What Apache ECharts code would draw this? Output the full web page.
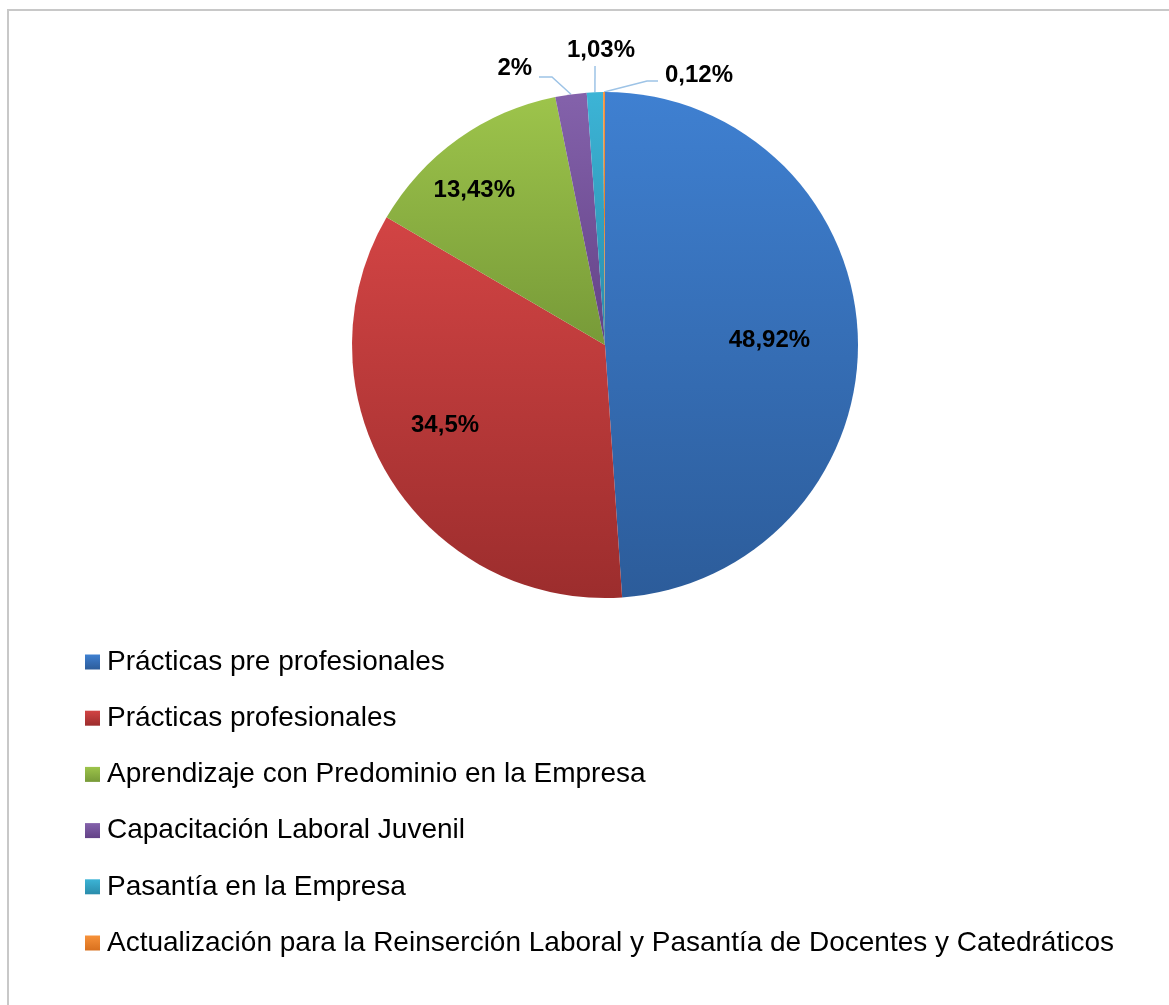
<!DOCTYPE html>
<html><head><meta charset="utf-8">
<script src="https://cdn.jsdelivr.net/npm/echarts@6/dist/echarts.min.js"></script>
<style>
html,body{margin:0;padding:0;background:#fff;overflow:hidden}
#frame{position:absolute;left:7px;top:9px;width:1300px;height:1100px;border-left:2px solid #c8c8c8;border-top:2px solid #c8c8c8}
#chart{position:absolute;left:0;top:0;width:1169px;height:1005px}
</style></head>
<body><div id="frame"></div><div id="chart"></div>
<script>
const categories = [
  'Prácticas pre profesionales',
  'Prácticas profesionales',
  'Aprendizaje con Predominio en la Empresa',
  'Capacitación Laboral Juvenil',
  'Pasantía en la Empresa',
  'Actualización para la Reinserción Laboral y Pasantía de Docentes y Catedráticos'
];
const values = [48.92, 34.5, 13.43, 2, 1.03, 0.12];
const labelTexts = ['48,92%', '34,5%', '13,43%', '2%', '1,03%', '0,12%'];

const colorsTop = ['#3f80d1', '#d24444', '#9dc44b', '#8462ab', '#3cb4d6', '#f7923a'];
const colorsBottom = ['#2c5c9a', '#9c2d2d', '#779a38', '#634287', '#2a8cab', '#d8701e'];
const insideFlags = [true, true, true, false, false, false];
// [radius factor, angle shift in degrees] for label placement
const labelPlace = [[0.65, 0.5], [0.707, 5.2], [0.80, -4.7], [1.151, -10.3], [1.165, 1.5], [1.13, 19.4]];
// leader line elbow: [radius factor, angle shift, horizontal run]
const lineElbow = [null, null, null, [1.080, -3.45, -13], [1.103, 0.24, 0], [1.057, 9.26, 11]];

const CX = 605, CY = 345, R = 253;
const FONT = '"Liberation Sans", Arial, sans-serif';

const total = values.reduce((a, b) => a + b, 0);
function midAngle(i) {
  let cum = 0;
  for (let j = 0; j < i; j++) cum += values[j];
  return (cum + values[i] / 2) / total * 360;
}
function polar(deg, r) {
  const a = deg * Math.PI / 180;
  return [CX + r * Math.sin(a), CY - r * Math.cos(a)];
}

const chart = echarts.init(document.getElementById('chart'));
chart.setOption({
  animation: false,
  legend: {
    orient: 'vertical',
    left: 85,
    top: 648,
    padding: 0,
    itemWidth: 15,
    itemHeight: 15,
    itemGap: 28.2,
    icon: 'rect',
    selectedMode: false,
    textStyle: { fontFamily: FONT, fontSize: 28, lineHeight: 28, color: '#000', padding: [0, 0, 0, 2] },
    data: categories
  },
  series: [{
    type: 'pie',
    center: [CX, CY],
    radius: R,
    startAngle: 90,
    clockwise: true,
    avoidLabelOverlap: false,
    data: categories.map((name, i) => ({
      name: name,
      value: values[i],
      itemStyle: {
        color: new echarts.graphic.LinearGradient(0, 0, 0, 1, [
          { offset: 0, color: colorsTop[i] },
          { offset: 1, color: colorsBottom[i] }
        ])
      },
      label: { position: insideFlags[i] ? 'inside' : 'outside' },
      labelLine: { show: !insideFlags[i] }
    })),
    label: {
      formatter: p => labelTexts[p.dataIndex],
      fontFamily: FONT,
      fontSize: 24,
      fontWeight: 'bold',
      color: '#000'
    },
    labelLine: {
      length: 15,
      length2: 10,
      lineStyle: { color: '#9dc3e6', width: 1.5 }
    },
    labelLayout: function (p) {
      const i = p.dataIndex;
      const m = midAngle(i);
      const pos = polar(m + labelPlace[i][1], labelPlace[i][0] * R);
      const out = { x: pos[0], y: pos[1], align: 'center', verticalAlign: 'middle' };
      if (lineElbow[i]) {
        const p0 = polar(m, R);
        const p1 = polar(m + lineElbow[i][1], lineElbow[i][0] * R);
        const p2 = [p1[0] + lineElbow[i][2], p1[1]];
        out.labelLinePoints = [p0, p1, p2];
      }
      return out;
    },
    emphasis: { disabled: true }
  }]
});
</script>
</body></html>
